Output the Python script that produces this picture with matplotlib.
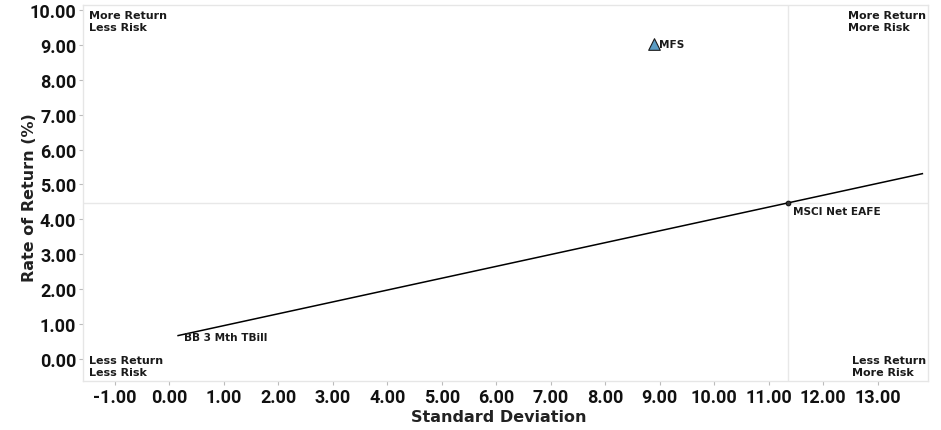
import matplotlib
matplotlib.use("Agg")
import matplotlib.pyplot as plt
import numpy as np

plt.rcParams['font.family'] = ['Roboto', 'DejaVu Sans']
TXT_FONT = ['DejaVu Sans']

# Data
names = ["MFS", "MSCI Net EAFE", "BB 3 Mth TBill"]
std_dev = [8.89, 11.35, 0.16]
returns = [9.02, 4.47, 0.67]
x_ticks = [-1, 0, 1, 2, 3, 4, 5, 6, 7, 8, 9, 10, 11, 12, 13]
y_ticks = [0, 1, 2, 3, 4, 5, 6, 7, 8, 9, 10]
x_limits = (-1.58, 13.92)
y_limits = (-0.64, 10.14)

fig = plt.figure(figsize=(9.41, 4.31), dpi=100)
ax = fig.add_axes([0.0885, 0.113, 0.8975, 0.873])
ax.set_xlim(*x_limits)
ax.set_ylim(*y_limits)

# quadrant lines through benchmark
bx, by = std_dev[1], returns[1]
ax.axvline(bx, color='#e8e8e8', lw=1, zorder=1)
ax.axhline(by, color='#e8e8e8', lw=1, zorder=1)

# capital market line from T-Bill through benchmark, extended to right edge
tx, ty = std_dev[2], returns[2]
slope = (by - ty) / (bx - tx)
x_end = x_limits[1] - 0.1
ax.plot([tx, x_end], [ty, ty + slope * (x_end - tx)], color='black', lw=1.1, zorder=2)

# markers
ax.scatter([std_dev[0]], [returns[0]], marker='^', s=70, facecolor='#5a9cc4',
           edgecolor='#1a1a1a', linewidth=0.8, zorder=4)
ax.scatter([std_dev[1]], [returns[1]], marker='o', s=12, facecolor='#333333',
           edgecolor='black', linewidth=0.6, zorder=4)

lab_kw = dict(fontsize=7.6, fontweight='bold', color='#1a1a1a', zorder=5, family=TXT_FONT)
ax.annotate(names[0], (std_dev[0], returns[0]), xytext=(4, 0), textcoords='offset points',
            ha='left', va='center', **lab_kw)
ax.annotate(names[1], (std_dev[1], returns[1]), xytext=(4, -6), textcoords='offset points',
            ha='left', va='center', **lab_kw)
ax.annotate(names[2], (std_dev[2], returns[2]), xytext=(4, -1), textcoords='offset points',
            ha='left', va='center', **lab_kw)

# quadrant captions
q_kw = dict(fontsize=8, fontweight='bold', color='#1a1a1a', linespacing=1.3, family=TXT_FONT)
ax.annotate("More Return\nLess Risk", (0, 1), xycoords='axes fraction', xytext=(4, -3.5),
            textcoords='offset points', ha='left', va='top', **q_kw)
ax.annotate("More Return\nMore Risk", (1, 1), xycoords='axes fraction', xytext=(-1, -3.5),
            textcoords='offset points', ha='right', va='top', multialignment='left', **q_kw)
ax.annotate("Less Return\nLess Risk", (0, 0), xycoords='axes fraction', xytext=(4, 3),
            textcoords='offset points', ha='left', va='bottom', **q_kw)
ax.annotate("Less Return\nMore Risk", (1, 0), xycoords='axes fraction', xytext=(-1, 3),
            textcoords='offset points', ha='right', va='bottom', multialignment='left', **q_kw)

ax.set_xticks(x_ticks)
ax.set_yticks(y_ticks)
ax.set_xticklabels([f"{v:.2f}" for v in x_ticks])
ax.set_yticklabels([f"{v:.2f}" for v in y_ticks])
ax.tick_params(axis='both', length=3, width=0.8, color='#bbbbbb', labelsize=13,
               pad=2)
for lab in ax.get_xticklabels() + ax.get_yticklabels():
    lab.set_fontweight('bold')
    lab.set_color('#111111')

for sp in ax.spines.values():
    sp.set_color('#e6e6e6')
    sp.set_linewidth(1)

ax.set_xlabel("Standard Deviation", fontsize=11.5, fontweight='bold', color='#222222',
              family=TXT_FONT)
ax.set_ylabel("Rate of Return (%)", fontsize=11.5, fontweight='bold', color='#222222',
              family=TXT_FONT)
ax.xaxis.set_label_coords(0.492, -0.073)
ax.yaxis.set_label_coords(-0.055, 0.49)

fig.savefig("out.png", dpi=100)
